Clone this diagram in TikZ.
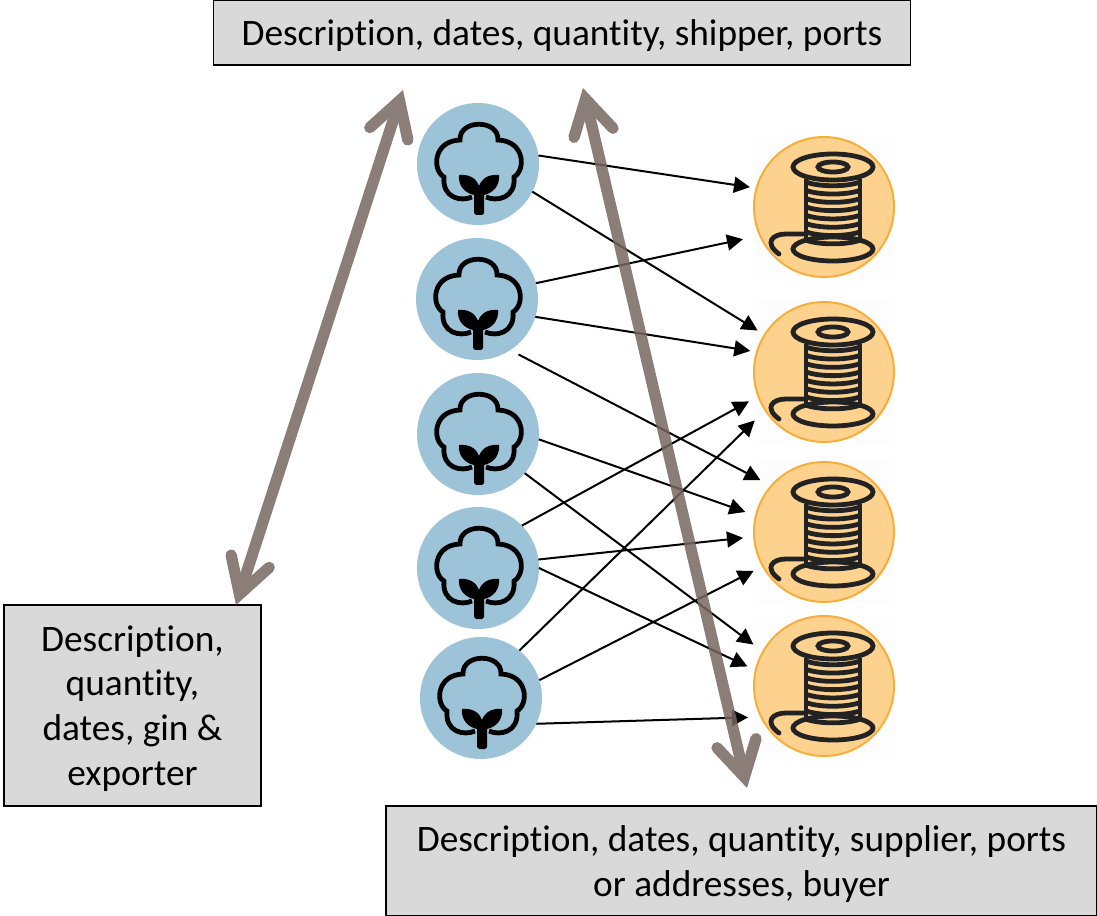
\documentclass[tikz,border=0pt]{standalone}
\usepackage{fontspec}
\setmainfont{Carlito}[Ligatures=NoCommon]
\usetikzlibrary{arrows.meta}
\definecolor{cottonblue}{HTML}{9CC3D8}
\definecolor{spoolorange}{HTML}{FDD28F}
\definecolor{spoolrim}{HTML}{F7AE3B}
\definecolor{spoolhaze}{HTML}{FDFDFD}
\definecolor{boxgrey}{HTML}{D9D9D9}
\definecolor{linkgrey}{HTML}{776660}
\definecolor{iconblack}{HTML}{222222}
\tikzset{
    cotton/.style={circle,fill=cottonblue,minimum size=91.5pt,inner sep=0pt,outer sep=0pt},
    spool/.style={circle,draw=spoolrim,line width=1.5pt,fill=spoolorange,minimum size=105pt,inner sep=0pt,outer sep=5pt},
    docbox/.style={draw=black,line width=1.2pt,fill=boxgrey,inner sep=0pt},
    doctext/.style={align=center,yshift=-2.2pt,font=\fontsize{28}{33.5}\selectfont},
    flow/.style={-{Triangle[length=12pt,width=12pt]},line width=1.5pt},
    link/.style={linkgrey,line width=8.5pt,{Straight Barb[length=26pt,width=30pt,line cap=round,line join=miter]}-{Straight Barb[length=26pt,width=30pt,line cap=round,line join=miter]}},
    pics/cottonicon/.style={code={
        \draw[black,line width=3.6pt] (-7,33) .. controls (-18,38) and (-37,34) .. (-35,13)
            .. controls (-47,6) and (-46,-23) .. (-19,-24)
            .. controls (-20,-45) and (20,-45) .. (19,-24)
            .. controls (46,-23) and (47,6) .. (35,13)
            .. controls (37,34) and (18,38) .. (7,33);
        \fill[black] (-20,11) .. controls (-10,10) and (-3,14) .. (0,22)
            .. controls (3,14) and (10,10) .. (20,11)
            .. controls (21,22) and (14,29) .. (5,31) -- (5,49) -- (3,51) -- (-3,51) -- (-5,49) -- (-5,31)
            .. controls (-14,29) and (-21,22) .. (-20,11) -- cycle;
    }},
    pics/spoolicon/.style={code={
        \begin{scope}[iconblack,line width=3.6pt]
            \draw (9,-40) ellipse [x radius=40,y radius=13];
            \draw (9,-40) ellipse [x radius=15,y radius=5];
            \draw (9,42) ellipse [x radius=40,y radius=12];
            \draw (-18,-28) -- (-18,36);
            \draw (36,-28) -- (36,36);
            \foreach \y in {-25,-16.7,...,34}
                \draw (-18,\y) .. controls (-5,\y+5) and (23,\y+5) .. (36,\y);
            \draw[line cap=round] (-21,27) -- (-38,27) .. controls (-52,27) and (-60,36) .. (-45,47);
        \end{scope}
    }}
}
\begin{document}
\begin{tikzpicture}[x=0.75pt,y=-0.75pt]
    \useasboundingbox (0,0) rectangle (1097,916);
    % the three record boxes
    \node[docbox,minimum width=523pt,minimum height=48.5pt] (shipbox) at (562,32.5) {};
    \node[doctext] (shiptext) at (shipbox) {Description, dates, quantity, shipper, ports};
    \node[docbox,minimum width=192.5pt,minimum height=150.5pt] (ginbox) at (132.5,705.5) {};
    \node[doctext] (gintext) at (ginbox) {Description,\\quantity,\\dates, gin \&\\exporter};
    \node[docbox,minimum width=533pt,minimum height=82.5pt] (buyerbox) at (741.5,861) {};
    \node[doctext] (buyertext) at (buyerbox) {Description, dates, quantity, supplier, ports\\or addresses, buyer};
    % the cotton circles
    \foreach \n/\x/\y in {1/478/164,2/477/299,3/478/434,4/478/568,5/481/698} {
        \node[cotton] (cotton\n) at (\x,\y) {};
        \pic at (\x+1,\y) {cottonicon};
    }
    % the spools
    \foreach \n/\y in {1/207,2/372,3/532,4/686} {
        \fill[spoolhaze] (824,\y) ++(-71,-71) rectangle ++(142,142);
        \node[spool] (spool\n) at (824,\y) {};
        \pic at (824,\y) {spoolicon};
    }
    % the trade flows, last value trims the arrow tip
    \foreach \a/\i/\b/\j/\s in {
        1/8.5/1/165.4/0, 1/-27.4/2/148.8/1.2,
        2/15/1/203.3/8, 2/-17.6/2/164.9/0,
        3/-5.5/3/166.1/3.4, 3/-40/4/150.9/3.9,
        4/44/2/201.7/3, 4/8.4/3/184/3.4, 4/0/4/166.4/1.8,
        5/51/2/214.5/6, 5/17/3/209.2/2.7, 5/-25/4/204.1/4.4}
        \draw[flow,shorten >=\s pt] (cotton\a.\i) -- (spool\b.\j);
    \draw[flow,shorten <=7pt,shorten >=4pt] (cotton2.-57.7) -- (spool3.140.6);
    % the thick grey links
    \coordinate (gintip) at (236,605);
    \coordinate (shiptipleft) at (403,90);
    \coordinate (shiptipright) at (583,88);
    \coordinate (buyertip) at (747,788);
    \begin{scope}[transparency group,opacity=0.85]
        \draw[link] (gintip) -- (shiptipleft);
    \end{scope}
    \begin{scope}[transparency group,opacity=0.85]
        \draw[link] (shiptipright) -- (buyertip);
    \end{scope}
\end{tikzpicture}
\end{document}
